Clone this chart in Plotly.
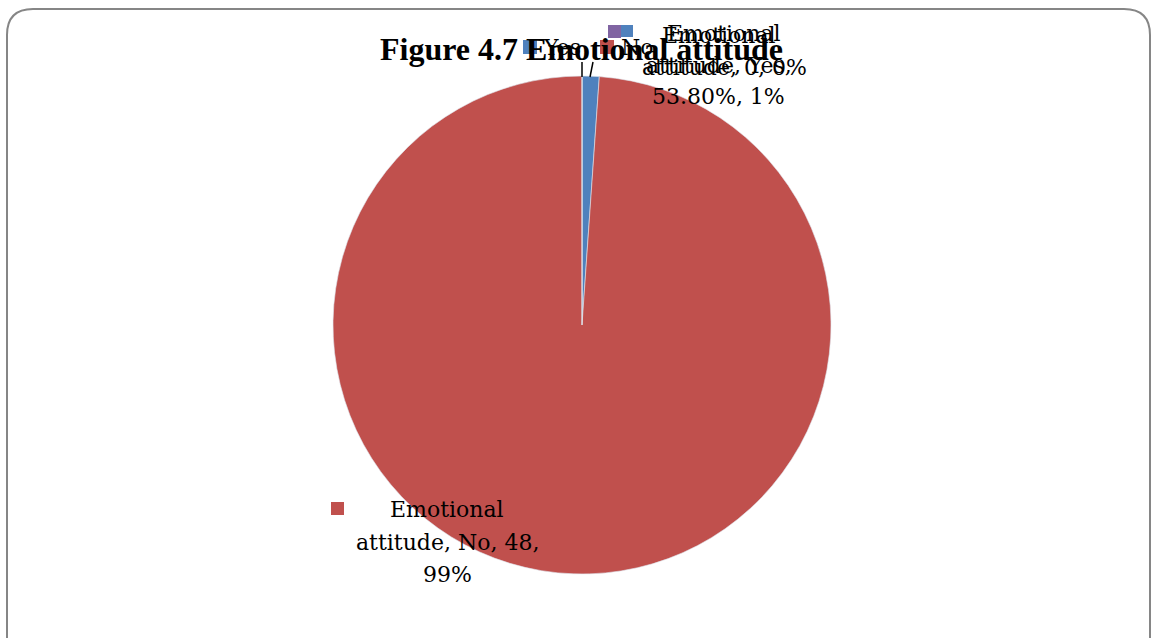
import plotly.graph_objects as go

W, H = 1151, 638

# ---- data ----
categories = ["Yes", "No", ""]
values = [0.538, 48, 0]
percent_text = ["1%", "99%", "0%"]
value_text = ["53.80%", "48", "0"]
colors = ["#4F81BD", "#C0504D", "#8064A2"]
series_name = "Emotional attitude"
title_text = "Figure 4.7 Emotional attitude"


def px(x):
    return x / W


def py(y):
    return 1 - y / H


fig = go.Figure()

cx, cy, r = 582, 325, 249
fig.add_trace(go.Pie(
    labels=categories,
    values=values,
    sort=False,
    direction="clockwise",
    rotation=0,
    marker=dict(colors=colors, line=dict(color="#dfe6ef", width=0.6)),
    textinfo="none",
    hoverinfo="label+value+percent",
    showlegend=False,
    domain=dict(x=[px(cx - r), px(cx + r)], y=[py(cy + r), py(cy - r)]),
))

serif_t = "Liberation Serif, Times New Roman, serif"
serif = "DejaVu Serif, serif"
anns = []
shapes = []

# title
anns.append(dict(text="<b>" + title_text + "</b>", x=px(581), y=py(49), xref="paper", yref="paper",
                 showarrow=False, font=dict(family=serif_t, size=32, color="#000"),
                 xanchor="center", yanchor="middle"))


def square(x0, y0, s, color):
    shapes.append(dict(type="rect", xref="paper", yref="paper",
                       x0=px(x0), x1=px(x0 + s), y0=py(y0 + s), y1=py(y0),
                       fillcolor=color, line=dict(width=0)))


lab_font = dict(family=serif, size=22, color="#000")


def label(lines, xc, y0, step=32):
    for i, t in enumerate(lines):
        anns.append(dict(text=t, x=px(xc), y=py(y0 + i * step), xref="paper", yref="paper",
                         showarrow=False, font=lab_font, xanchor="center", yanchor="middle"))


# legend-like entries on the title line
square(523, 40, 14, colors[0])
anns.append(dict(text=categories[0], x=px(541), y=py(48), xref="paper", yref="paper", showarrow=False,
                 font=lab_font, xanchor="left", yanchor="middle"))
square(600, 40, 14, colors[1])
anns.append(dict(text=categories[1], x=px(619), y=py(48), xref="paper", yref="paper", showarrow=False,
                 font=lab_font, xanchor="left", yanchor="middle"))

# zero-value (purple) label
square(608, 25, 13, colors[2])
label(["Emotional", "attitude, " + value_text[2] + ", " + percent_text[2]], 724, 34, 33)
# Yes label
square(621, 25, 12, colors[0])
label(["Emotional", "attitude, " + categories[0] + ",",
       value_text[0] + ", " + percent_text[0]], 719, 35, 31)

# No label
square(331, 502, 13, colors[1])
label(["Emotional", "attitude, " + categories[1] + ", " + value_text[1] + ",",
       percent_text[1]], 447, 510, 32)

# leader lines
for (x0, y0, x1, y1) in [(582, 77, 582, 62), (590, 77, 593, 62)]:
    shapes.append(dict(type="line", xref="paper", yref="paper",
                       x0=px(x0), y0=py(y0), x1=px(x1), y1=py(y1),
                       line=dict(color="#000", width=1.5)))

# rounded frame
L, T, R, B, rad = 7, 9, 1150, 680, 26
path = (f"M {px(L+rad)},{py(T)} L {px(R-rad)},{py(T)} "
        f"Q {px(R)},{py(T)} {px(R)},{py(T+rad)} "
        f"L {px(R)},{py(B-rad)} Q {px(R)},{py(B)} {px(R-rad)},{py(B)} "
        f"L {px(L+rad)},{py(B)} Q {px(L)},{py(B)} {px(L)},{py(B-rad)} "
        f"L {px(L)},{py(T+rad)} Q {px(L)},{py(T)} {px(L+rad)},{py(T)} Z")
shapes.append(dict(type="path", xref="paper", yref="paper", path=path,
                   line=dict(color="#868686", width=2), fillcolor="rgba(0,0,0,0)", layer="below"))

fig.update_layout(
    width=W, height=H,
    margin=dict(l=0, r=0, t=0, b=0),
    paper_bgcolor="white", plot_bgcolor="white",
    annotations=anns, shapes=shapes,
    showlegend=False,
)

fig.write_html("out.html", config={"displayModeBar": False})
